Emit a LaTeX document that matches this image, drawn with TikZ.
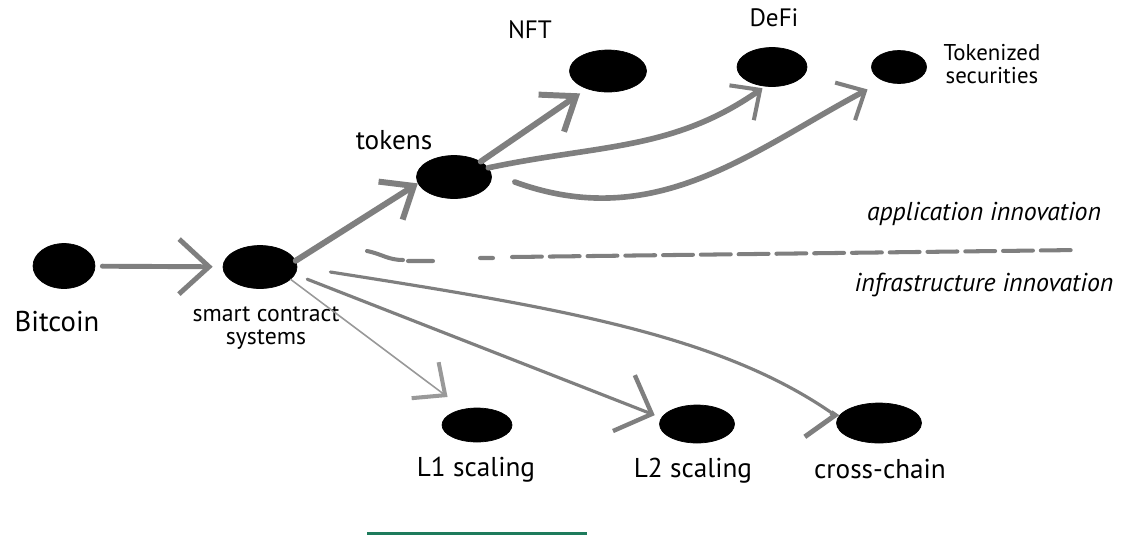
\documentclass[tikz,border=0pt]{standalone}
\usepackage{fontspec}
\setmainfont{PT Sans}
\usetikzlibrary{arrows.meta,shapes.geometric}
\definecolor{pen}{HTML}{7F7F7F}
\definecolor{rulegreen}{HTML}{1E7B5C}

\begin{document}
\begin{tikzpicture}[x=0.02cm,y=-0.02cm,
    blob/.style={ellipse,fill=black,draw=black,inner sep=0pt},
    lbl/.style={font=\fontsize{15.5}{14}\selectfont,align=center,inner sep=0pt},
    pen/.style={draw=pen,line width=3.4pt,line cap=round},
    barb/.style 2 args={-{Straight Barb[length=#1,width=#2]}}]
    \useasboundingbox (0,0) rectangle (1124,535);
    \node[blob,minimum width=1.24cm,minimum height=0.9cm] (btc) at (64,266) {};
    \node[blob,minimum width=1.48cm,minimum height=0.86cm] (smart) at (260,267) {};
    \node[blob,minimum width=1.5cm,minimum height=0.86cm] (tokens) at (454,177) {};
    \node[blob,minimum width=1.54cm,minimum height=0.84cm] (nft) at (608,71) {};
    \node[blob,minimum width=1.4cm,minimum height=0.78cm] (defi) at (772,67) {};
    \node[blob,minimum width=1.1cm,minimum height=0.66cm] (toksec) at (899,67) {};
    \node[blob,minimum width=1.4cm,minimum height=0.68cm] (lone) at (477,425) {};
    \node[blob,minimum width=1.5cm,minimum height=0.76cm] (ltwo) at (697,424) {};
    \node[blob,minimum width=1.7cm,minimum height=0.8cm] (xchain) at (879,423) {};

    \node[lbl,font=\fontsize{16.3}{19}\selectfont] (btclbl) at (57,322) {Bitcoin};
    \node[lbl,font=\fontsize{13.5}{13.2}\selectfont] (smartlbl) at (266,328) {smart contract\\systems};
    \node[lbl] (tokenslbl) at (394,140) {tokens};
    \node[lbl,font=\fontsize{14.3}{14}\selectfont] (nftlbl) at (530,30) {NFT};
    \node[lbl,font=\fontsize{14.3}{14}\selectfont] (defilbl) at (774,18) {DeFi};
    \node[lbl,font=\fontsize{13}{13}\selectfont] (toksecLbl) at (992,64) {Tokenized\\securities};
    \node[lbl,font=\fontsize{14.7}{16}\selectfont\itshape] (applbl) at (984,214) {application innovation};
    \node[lbl,font=\fontsize{14.7}{16}\selectfont\itshape] (infralbl) at (984,285) {infrastructure innovation};
    \node[lbl] (lonelbl) at (476,470) {L1 scaling};
    \node[lbl] (ltwolbl) at (693,471) {L2 scaling};
    \node[lbl] (xchainlbl) at (880,469) {cross-chain};

    \draw[pen,line width=2.8pt,shorten <=0.14cm,shorten >=0.2cm,barb={0.6cm}{1.1cm}] (btc) -- (smart);
    \draw[pen,barb={0.55cm}{0.9cm}] (smart.10) -- (tokens.190);
    \draw[pen,shorten >=0.16cm,barb={0.6cm}{0.9cm}] (tokens.30) -- (nft.220);
    \draw[pen,line width=3.2pt,shorten >=0.06cm,-{Straight Barb[length=0.45cm,width=0.85cm,line width=2.3pt]}]
        (tokens.15) to[out=12,in=215] (defi.250);
    \draw[pen,line width=3.2pt,shorten >=0.36cm,-{Straight Barb[length=0.45cm,width=0.85cm,line width=2.3pt]}]
        ([shift={(23,5)}]tokens.east) to[out=-20,in=208] (toksec.222);
    \draw[pen,draw=pen!80,line width=0.9pt,shorten >=0.4cm,-{Straight Barb[length=0.5cm,width=0.9cm,line width=2.3pt]}]
        (smart.-22) -- (lone.130);
    \draw[pen,line width=1.8pt,shorten <=0.26cm,shorten >=0.14cm,-{Straight Barb[length=0.6cm,width=1.2cm,line width=2.5pt]}]
        (smart.-12) -- (ltwo.170);
    \draw[pen,line width=1.8pt,-{Straight Barb[harpoon,swap,length=0.25cm,width=1.4cm,line width=2.8pt]}]
        ([shift={(33,5)}]smart.east) .. controls (560,308) and (720,335) .. (xchain.172);

    \coordinate (divL) at (367,251);
    \coordinate (divR) at (1078,250);
    \draw[pen,line width=2.3pt] (divL) .. controls +(15,3) and +(-15,0) .. ++(36,9) ++(5,1) -- ++(25,0) ++(47,-3) -- ++(13,0);
    \draw[pen,line width=2.3pt,dash pattern=on 17pt off 4.5pt] ([shift={(145,6)}]divL) -- (divR);

    \draw[rulegreen,line width=1.7pt] (367,533.5) -- (587,533.5);
\end{tikzpicture}
\end{document}
